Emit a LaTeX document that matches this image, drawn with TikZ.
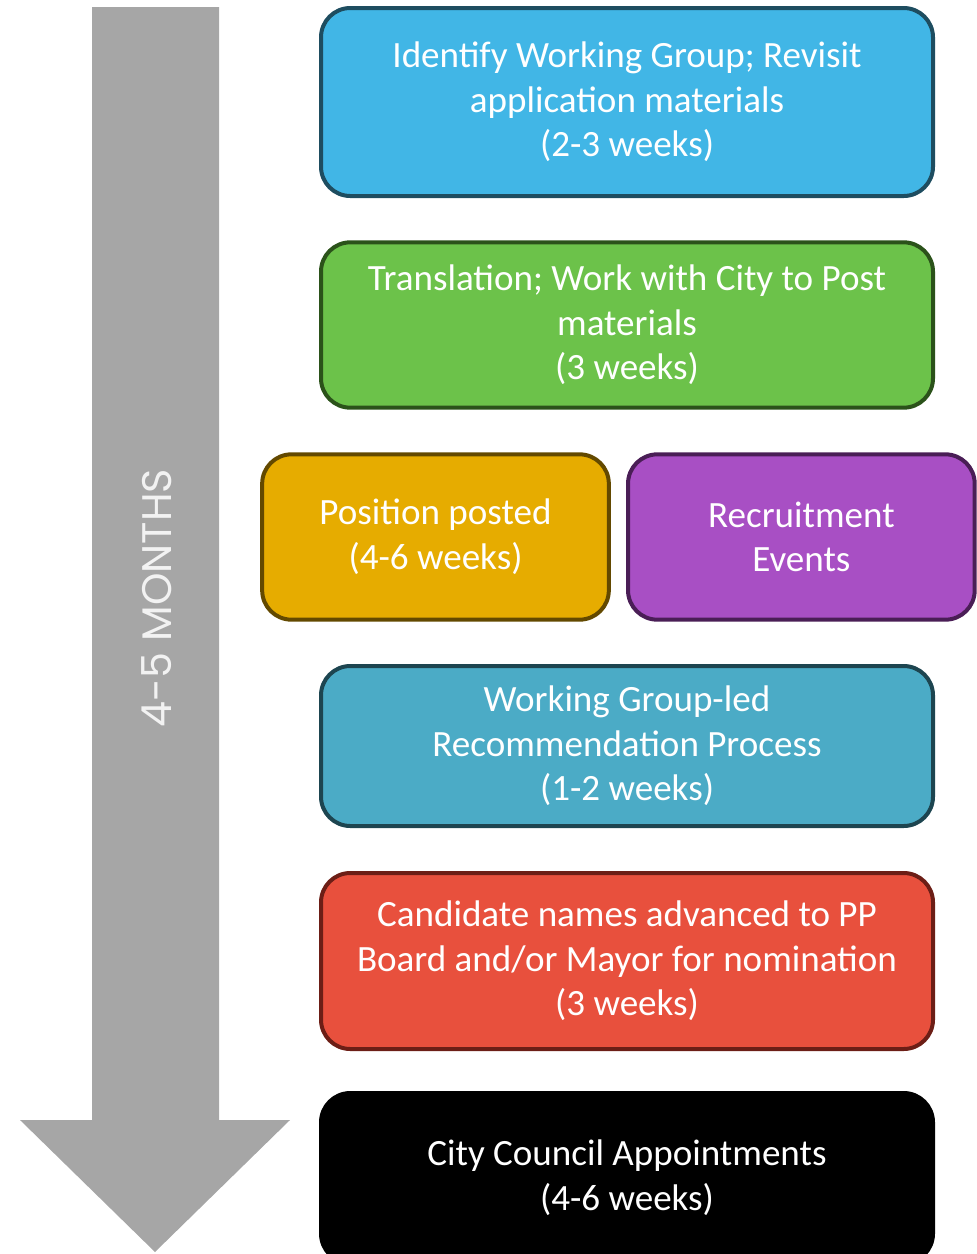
\documentclass[tikz,border=0pt]{standalone}
\usepackage{fontspec}
\setmainfont{Carlito}
\newfontfamily\monthsfont{Poppins}
\usetikzlibrary{
	positioning				% Allows right=of style placement
}

%% Fill and border colours of the stages
\definecolor{arrowgray}{RGB}{166,166,166}
\definecolor{skyfill}{RGB}{65,182,230}
\definecolor{skyline}{RGB}{30,77,96}
\definecolor{grassfill}{RGB}{108,194,74}
\definecolor{grassline}{RGB}{43,82,26}
\definecolor{goldfill}{RGB}{230,172,0}
\definecolor{goldline}{RGB}{99,73,0}
\definecolor{plumfill}{RGB}{168,79,196}
\definecolor{plumline}{RGB}{74,30,86}
\definecolor{tealfill}{RGB}{75,171,198}
\definecolor{tealline}{RGB}{29,69,80}
\definecolor{brickfill}{RGB}{232,80,61}
\definecolor{brickline}{RGB}{108,30,22}

\begin{document}
\begin{tikzpicture}[
		x=0.75pt, y=-0.75pt
		, stage/.style={draw, line width=3pt, rounded corners=22pt, text=white, align=center
			, font=\fontsize{27.8}{33.5}\selectfont, inner sep=0pt}
		, wide/.style={stage, minimum width=459pt}
		, half/.style={stage, minimum width=260pt, minimum height=124pt}]

		\useasboundingbox (0,0) rectangle (976,1254);

		%%% Time arrow on the left
		\fill[arrowgray] (92,7) -- (219,7) -- (219,1120) -- (290,1120) -- (155,1252)
			-- (20,1120) -- (92,1120) -- cycle;
		\node[rotate=90, text=white!95!black, font=\monthsfont\fontsize{31}{38}\selectfont] (months)
			at (157,598) {4-5 MONTHS};

		%%% Stages, top to bottom
		%% Working group
		\node[wide, minimum height=141pt, fill=skyfill, draw=skyline] (identify) at (627,102)
			{Identify Working Group; Revisit\\application materials\\(2-3 weeks)};

		%% Translation
		\node[wide, minimum height=124pt, fill=grassfill, draw=grassline] (translate) at (627,325)
			{Translation; Work with City to Post\\materials\\(3 weeks)};

		%% Posting and recruitment side by side
		\node[half, fill=goldfill, draw=goldline] (posted) at (435.5,537)
			{Position posted\\(4-6 weeks)};
		\node[half, fill=plumfill, draw=plumline, right=11.4pt of posted] (recruit)
			{Recruitment\\Events};

		%% Recommendation
		\node[wide, minimum height=120pt, fill=tealfill, draw=tealline] (recommend) at (627,746)
			{Working Group-led\\Recommendation Process\\(1-2 weeks)};

		%% Nomination
		\node[wide, minimum height=132pt, fill=brickfill, draw=brickline] (nominate) at (627,961)
			{Candidate names advanced to PP\\Board and/or Mayor for nomination\\(3 weeks)};

		%% Appointment
		\node[wide, minimum height=127.5pt, fill=black, draw=black] (appoint) at (627,1178)
			{City Council Appointments\\(4-6 weeks)};
	\end{tikzpicture}
\end{document}
